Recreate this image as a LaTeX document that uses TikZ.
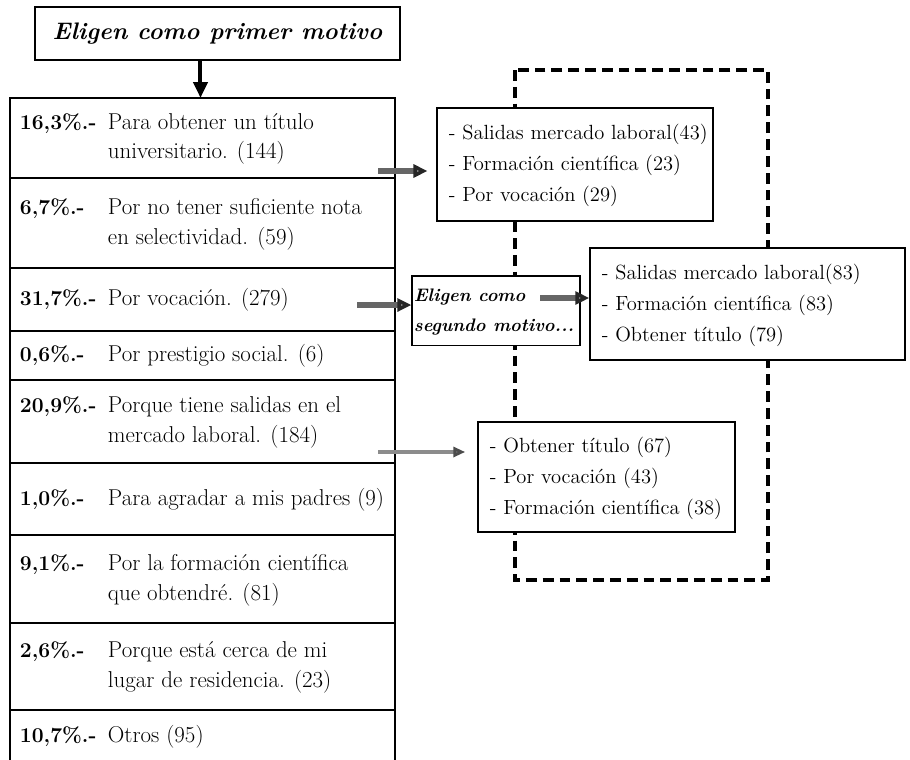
\documentclass[tikz,border=0pt]{standalone}
\usepackage{fontspec}
\usepackage{tikz}
\usetikzlibrary{arrows.meta,positioning}
\newcommand\motivo[2]{\makebox[9.625cm][l]{\hspace*{0.25cm}\makebox[2.2cm][l]{\fontsize{15}{21.3}\selectfont\textbf{#1}}\begin{tabular}[t]{@{}l@{}}#2\end{tabular}}}
\newcommand\opciones[2]{\makebox[#1][l]{\begin{tabular}{@{}l@{}}#2\end{tabular}}}
\tikzset{
  rowbox/.style={rectangle, draw, line width=1.3pt, outer sep=0pt, inner sep=0pt, minimum width=9.625cm, font=\fontsize{16.3}{21.3}\selectfont},
  reply/.style={rectangle, draw, fill=white, line width=1pt, inner xsep=0.3cm, inner ysep=0pt, font=\fontsize{14.6}{22}\selectfont},
  headbox/.style={rectangle, draw, fill=white, line width=1pt, minimum width=9.125cm, minimum height=1.325cm, font=\fontsize{17}{19}\selectfont\bfseries\itshape},
  segbox/.style={rectangle, draw, fill=white, line width=0.9pt, inner xsep=0.05cm, minimum width=4.2cm, minimum height=1.625cm, font=\fontsize{12.9}{21.3}\selectfont\bfseries\itshape},
  frame/.style={line width=2.3pt, dash pattern=on 0.27cm off 0.15cm},
  darr/.style={-{Triangle[length=0.4cm, width=0.35cm]}, line width=0.1cm},
  garr/.style={-{Triangle[length=0.35cm, width=0.32cm, color=black!85, fill=black!45]}, draw=black!60, line width=0.13cm},
  larr/.style={-{Triangle[length=0.3cm, width=0.25cm, color=black!70, fill=black!35]}, draw=black!45, line width=0.09cm}
}
\begin{document}
\begin{tikzpicture}[x=0.025cm, y=-0.025cm, node distance=0pt]
\useasboundingbox (0,0) rectangle (910,759);
\draw[frame] (515,70) rectangle (768,580);

\node[headbox] (tit) at (217.5,33.5) {Eligen como primer motivo};

\node[rowbox, minimum height=2cm, anchor=north] (r1) at (202.5,98) {\motivo{16,3\%.-}{Para obtener un título\\universitario. (144)}};
\node[rowbox, minimum height=2.25cm, below=of r1] (r2) {\motivo{6,7\%.-}{Por no tener suficiente nota\\en selectividad. (59)}};
\node[rowbox, minimum height=1.575cm, below=of r2] (r3) {\motivo{31,7\%.-}{Por vocación. (279)}};
\node[rowbox, minimum height=1.225cm, below=of r3] (r4) {\motivo{0,6\%.-}{Por prestigio social. (6)}};
\node[rowbox, minimum height=2.075cm, below=of r4] (r5) {\motivo{20,9\%.-}{Porque tiene salidas en el\\mercado laboral. (184)}};
\node[rowbox, minimum height=1.8cm, below=of r5] (r6) {\motivo{1,0\%.-}{Para agradar a mis padres (9)}};
\node[rowbox, minimum height=2.2cm, below=of r6] (r7) {\motivo{9,1\%.-}{Por la formación científica\\que obtendré. (81)}};
\node[rowbox, minimum height=2.175cm, below=of r7] (r8) {\motivo{2,6\%.-}{Porque está cerca de mi\\lugar de residencia. (23)}};
\node[rowbox, minimum height=1.3cm, below=of r8] (r9) {\motivo{10,7\%.-}{Otros (95)}};

\node[reply, minimum width=6.9cm, minimum height=2.825cm] (titulo2) at (575,164.5) {\opciones{6.3cm}{- Salidas mercado laboral(43)\\- Formación científica (23)\\- Por vocación (29)}};
\node[segbox] (seg) at (496,310.5) {\opciones{4.1cm}{Eligen como\\segundo motivo...}};
\node[reply, minimum width=7.875cm, minimum height=2.8cm] (vocacion2) at (747.5,304) {\opciones{7.275cm}{- Salidas mercado laboral(83)\\- Formación científica (83)\\- Obtener título (79)}};
\node[reply, minimum width=6.425cm, minimum height=2.75cm] (salidas2) at (606.5,477) {\opciones{5.825cm}{- Obtener título (67)\\- Por vocación (43)\\- Formación científica (38)}};

\draw[darr] ([xshift=-0.425cm]tit.south) -- ([xshift=-0.425cm]tit.south |- r1.north);
\coordinate (p1) at (378,171);
\coordinate (p2) at (357,305);
\coordinate (p3) at (540,298);
\coordinate (p4) at (378,452);
\draw[garr, shorten >=0.22cm] (p1) -- (p1 -| titulo2.west);
\draw[garr] (p2) -- (p2 -| seg.west);
\draw[garr] (p3) -- (p3 -| vocacion2.west);
\draw[larr, shorten >=0.3cm] (p4) -- (p4 -| salidas2.west);
\end{tikzpicture}
\end{document}
